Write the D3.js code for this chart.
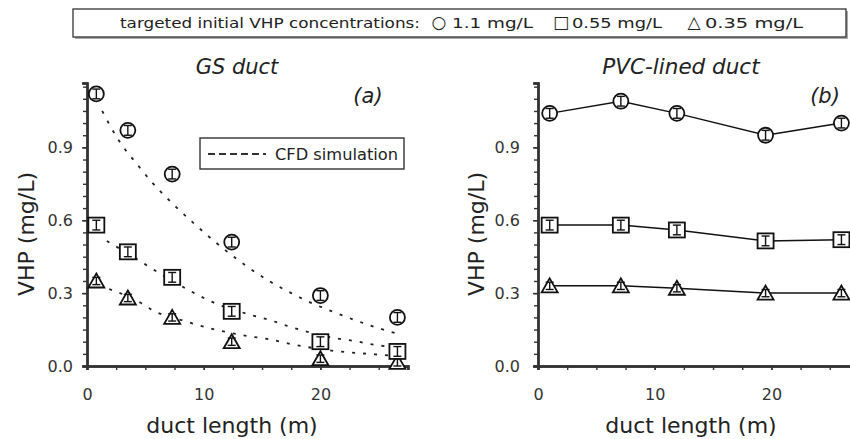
<!DOCTYPE html>
<html>
<head>
<meta charset="utf-8">
<script src="https://cdn.jsdelivr.net/npm/d3@7"></script>
<style>
  body { margin: 0; background: #fff; }
  svg { display: block; font-family: "DejaVu Sans", Verdana, sans-serif; }
</style>
</head>
<body>
<div id="chart"></div>
<script>
// measured data, GS duct (a)
const gsLength = [0.8, 3.5, 7.3, 12.4, 20.0, 26.6];
const gsHigh = [1.12, 0.97, 0.79, 0.51, 0.29, 0.20];
const gsMid = [0.58, 0.47, 0.365, 0.225, 0.10, 0.06];
const gsLow = [0.35, 0.28, 0.20, 0.10, 0.03, 0.015];

// CFD simulation curves
const cfdHighX = [1.3, 2.7, 4.3, 5.5, 7.3, 9.2, 11.0, 13.7, 15.6, 17.5, 19.2, 21.0, 22.9, 24.7, 26.6];
const cfdHighY = [1.05, 0.93, 0.83, 0.76, 0.67, 0.585, 0.51, 0.41, 0.35, 0.30, 0.26, 0.225, 0.19, 0.16, 0.133];
const cfdMidX = [1.7, 4.6, 5.6, 9.2, 10.9, 13.7, 15.6, 17.5, 21.2, 22.9, 24.7, 26.6];
const cfdMidY = [0.515, 0.43, 0.40, 0.30, 0.26, 0.215, 0.19, 0.16, 0.115, 0.103, 0.087, 0.076];
const cfdLowX = [1.9, 4.6, 5.6, 8.3, 10.9, 13.7, 15.6, 17.5, 21.2, 24.7, 26.6];
const cfdLowY = [0.317, 0.26, 0.23, 0.186, 0.151, 0.124, 0.11, 0.09, 0.062, 0.048, 0.041];

// measured data, PVC-lined duct (b)
const pvcLength = [1.0, 7.1, 11.9, 19.5, 26.0];
const pvcHigh = [1.04, 1.09, 1.04, 0.95, 1.00];
const pvcMid = [0.58, 0.58, 0.56, 0.515, 0.52];
const pvcLow = [0.33, 0.33, 0.32, 0.30, 0.30];

// error bar half widths (mg/L)
const errHigh = 0.02;
const errMid = 0.02;
const errLow = 0.015;

const yTicks = [0.0, 0.3, 0.6, 0.9];
const xTicks = [0, 10, 20];
const legendTitle = "targeted initial VHP concentrations:";
const legendItems = [
    { symbol: "\u25CB", label: "1.1 mg/L" },
    { symbol: "\u25A1", label: "0.55 mg/L" },
    { symbol: "\u25B3", label: "0.35 mg/L" }
];

const width = 850;
const height = 439;

const svg = d3.select("#chart")
    .append("svg")
    .attr("width", width)
    .attr("height", height);

// top legend box
svg.append("rect")
    .attr("x", 75).attr("y", 11)
    .attr("width", 773).attr("height", 28)
    .attr("fill", "#aaa");
svg.append("rect")
    .attr("x", 73).attr("y", 9)
    .attr("width", 773).attr("height", 28)
    .attr("fill", "#fff")
    .attr("stroke", "#333")
    .attr("stroke-width", 1.3);
svg.append("text")
    .attr("x", 120).attr("y", 28)
    .attr("textLength", 300)
    .attr("lengthAdjust", "spacingAndGlyphs")
    .style("font-size", "14px")
    .attr("fill", "#222")
    .text(legendTitle);
const legendSymbolX = [439, 561, 694];
const legendLabelX = [452, 572, 705];
const legendLabelW = [81, 90, 98];
legendItems.forEach((item, i) => {
    svg.append("text")
        .attr("x", legendSymbolX[i]).attr("y", 28)
        .attr("text-anchor", "middle")
        .style("font-size", "17px")
        .attr("fill", "#222")
        .text(item.symbol);
    svg.append("text")
        .attr("x", legendLabelX[i]).attr("y", 28)
        .attr("textLength", legendLabelW[i])
        .attr("lengthAdjust", "spacingAndGlyphs")
        .style("font-size", "14px")
        .attr("fill", "#222")
        .text(item.label);
});

const drawMarker = (g, shape, cx, cy, err) => {
    const m = g.append("g").attr("transform", `translate(${cx},${cy})`);
    if (shape === "circle") {
        m.append("circle").attr("r", 7.5);
    } else if (shape === "square") {
        m.append("rect").attr("x", -8).attr("y", -7.5).attr("width", 16).attr("height", 15);
    } else {
        m.append("path").attr("d", "M0,-7.5 L8,6.5 L-8,6.5 Z");
    }
    m.selectAll("circle, rect, path")
        .attr("fill", "#fff")
        .attr("stroke", "#111")
        .attr("stroke-width", 1.8);
    // error bar
    m.append("line").attr("x1", 0).attr("x2", 0).attr("y1", -err).attr("y2", err);
    m.append("line").attr("x1", -4).attr("x2", 4).attr("y1", -err).attr("y2", -err);
    m.append("line").attr("x1", -4).attr("x2", 4).attr("y1", err).attr("y2", err);
    m.selectAll("line").attr("stroke", "#111").attr("stroke-width", 1.4);
};

const drawPanel = (opts) => {
    const x = d3.scaleLinear().domain([0, 27.5]).range([opts.left, opts.left + 27.5 * 11.67]);
    const y = d3.scaleLinear().domain([0, 1.165]).range([366, 83]);
    const g = svg.append("g");

    // y axis
    const yAxis = g.append("g").attr("transform", `translate(${opts.left},0)`);
    yAxis.call(d3.axisLeft(y).tickValues(d3.range(0, 1.16, 0.05)).tickSize(4).tickFormat(""));
    yAxis.append("g").call(d3.axisLeft(y).tickValues(yTicks).tickSize(5).tickPadding(opts.yPad).tickFormat(d3.format(".1f")));
    // x axis
    const xAxis = g.append("g").attr("transform", "translate(0,366)");
    xAxis.call(d3.axisBottom(x).tickValues(d3.range(0, 27.5, 2.5)).tickSize(4).tickFormat(""));
    xAxis.append("g").call(d3.axisBottom(x).tickValues(xTicks).tickSize(4).tickPadding(19).tickFormat(d3.format("d")));

    g.selectAll(".domain").attr("stroke", "#333").attr("stroke-width", 2.4);
    g.selectAll(".tick line").attr("stroke", "#333").attr("stroke-width", 1.4);
    g.selectAll(".tick text").attr("fill", "#333").style("font-size", "16px").attr("font-family", "DejaVu Sans");

    // titles
    g.append("text")
        .attr("x", opts.titleX).attr("y", 74)
        .attr("text-anchor", "middle")
        .style("font-size", opts.titleSize).style("font-style", "italic")
        .attr("fill", "#222")
        .text(opts.title);
    g.append("text")
        .attr("x", opts.tagX).attr("y", 103)
        .attr("text-anchor", "middle")
        .style("font-size", "21px").style("font-style", "italic")
        .attr("fill", "#222")
        .text(opts.tag);
    g.append("text")
        .attr("x", opts.xLabelX).attr("y", 433)
        .attr("text-anchor", "middle")
        .style("font-size", "22px")
        .attr("fill", "#222")
        .text("duct length (m)");
    g.append("text")
        .attr("transform", `translate(${opts.yLabelX},234) rotate(-90)`)
        .attr("text-anchor", "middle")
        .style("font-size", "22px")
        .attr("fill", "#222")
        .text("VHP (mg/L)");

    return { g, x, y };
};

// panel (a)
const a = drawPanel({ left: 87, title: "GS duct", titleX: 237, titleSize: "21px", tag: "(a)", tagX: 368, yPad: 9, yLabelX: 34, xLabelX: 232 });

const cfdLine = d3.line()
    .x(d => a.x(d[0]))
    .y(d => a.y(d[1]))
    .curve(d3.curveMonotoneX);

[[cfdHighX, cfdHighY], [cfdMidX, cfdMidY], [cfdLowX, cfdLowY]].forEach(([xs, ys]) => {
    a.g.append("path")
        .attr("d", cfdLine(xs.map((v, i) => [v, ys[i]])))
        .attr("fill", "none")
        .attr("stroke", "#222")
        .attr("stroke-width", 1.8)
        .attr("stroke-dasharray", "3,8");
});

// CFD legend
a.g.append("rect")
    .attr("x", 200).attr("y", 138)
    .attr("width", 204).attr("height", 31)
    .attr("fill", "#fff")
    .attr("stroke", "#333")
    .attr("stroke-width", 1.4);
a.g.append("line")
    .attr("x1", 208).attr("x2", 266)
    .attr("y1", 154).attr("y2", 154)
    .attr("stroke", "#333")
    .attr("stroke-width", 1.8)
    .attr("stroke-dasharray", "7,4");
a.g.append("text")
    .attr("x", 275).attr("y", 160)
    .attr("textLength", 123)
    .attr("lengthAdjust", "spacingAndGlyphs")
    .style("font-size", "16px")
    .attr("fill", "#222")
    .text("CFD simulation");

const drawSeries = (p, xs, ys, shape, err, withLine) => {
    if (withLine) {
        p.g.append("path")
            .attr("d", d3.line().x((d, i) => p.x(xs[i])).y(d => p.y(d))(ys))
            .attr("fill", "none")
            .attr("stroke", "#111")
            .attr("stroke-width", 1.5);
    }
    ys.forEach((v, i) => {
        const half = Math.max(3.5, p.y(0) - p.y(err));
        drawMarker(p.g, shape, p.x(xs[i]), p.y(v), half);
    });
};

drawSeries(a, gsLength, gsLow, "triangle", errLow, false);
drawSeries(a, gsLength, gsMid, "square", errMid, false);
drawSeries(a, gsLength, gsHigh, "circle", errHigh, false);

// panel (b)
const b = drawPanel({ left: 538, title: "PVC-lined duct", titleX: 681, titleSize: "21.5px", tag: "(b)", tagX: 825, yPad: 13, yLabelX: 484, xLabelX: 691 });

drawSeries(b, pvcLength, pvcHigh, "circle", errHigh, true);
drawSeries(b, pvcLength, pvcMid, "square", errMid, true);
drawSeries(b, pvcLength, pvcLow, "triangle", errLow, true);
</script>
</body>
</html>
